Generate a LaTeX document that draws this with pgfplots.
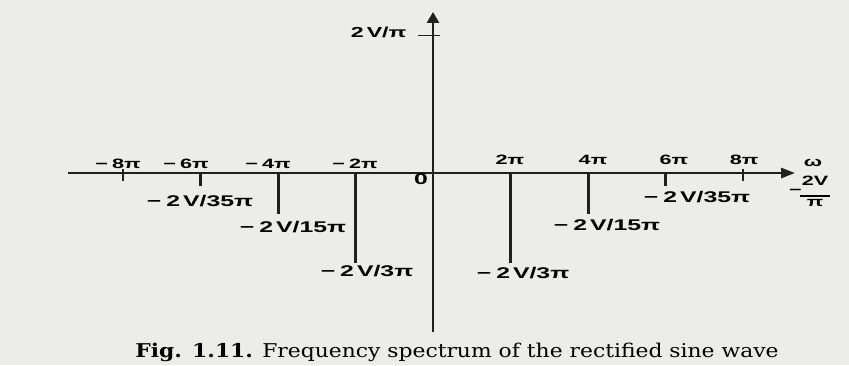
\documentclass[border=0pt]{standalone}
\usepackage{pgfplots}
\pgfplotsset{compat=1.18}
\usetikzlibrary{arrows.meta}
\usepackage{fontspec}
\setmainfont{Liberation Serif}
\newfontfamily\lbl[FakeStretch=1.6]{Liberation Sans}
\newfontfamily\capfont[FakeStretch=1.15]{DejaVu Serif}
\definecolor{paper}{RGB}{236,236,234}
\definecolor{ink}{RGB}{32,32,32}
\newcommand{\bl}{\fontsize{15.5}{18}\selectfont\lbl\bfseries}
\newcommand{\tl}{\fontsize{13.5}{16}\selectfont\lbl\bfseries}
\begin{document}
\begin{tikzpicture}
\begin{axis}[
  scale only axis, width=849pt, height=365pt,
  xmin=-11.174, xmax=10.735, ymin=-1.396, ymax=1.258,
  axis lines=none, clip=false,
  every node/.style={inner sep=0pt, outer sep=0pt, text=ink},
]
\fill[paper] (rel axis cs:0,0) rectangle (rel axis cs:1,1);
% axes
\draw[ink, line width=2.8pt, -{Triangle[length=14pt,width=10pt]}] (axis cs:-9.419,0) -- (axis cs:9.342,0);
\draw[ink, line width=2.8pt, -{Triangle[length=11pt,width=12pt]}] (axis cs:0,-1.156) -- (axis cs:0,1.171);
\draw[ink, line width=1.8pt] (axis cs:-0.387,1) -- (axis cs:0.18,1);
% spectrum (DC line coincides with the vertical axis)
\addplot[ycomb, ink, line width=2.8pt, mark=none] coordinates {(0,1)};
\addplot[ycomb, ink, line width=3.0pt, mark=none] coordinates {
(-6,-0.095) (-4,-0.30) (-2,-0.655) (2,-0.655) (4,-0.30) (6,-0.095)};
\addplot[ink, line width=2.8pt, mark=none] coordinates {(-8,0.03) (-8,-0.058)};
\addplot[ink, line width=2.8pt, mark=none] coordinates {(8,0.03) (8,-0.058)};
% frequency labels
\node[anchor=base] at (axis cs:-8.129,0.0364) {\tl −\hspace{4pt}8π};
\node[anchor=base] at (axis cs:-6.374,0.0364) {\tl −\hspace{4pt}6π};
\node[anchor=base] at (axis cs:-4.258,0.0364) {\tl −\hspace{4pt}4π};
\node[anchor=base] at (axis cs:-2.013,0.0364) {\tl −\hspace{4pt}2π};
\node[anchor=base] at (axis cs:1.987,0.0655) {\tl 2π};
\node[anchor=base] at (axis cs:4.129,0.0655) {\tl 4π};
\node[anchor=base] at (axis cs:6.219,0.0655) {\tl 6π};
\node[anchor=base] at (axis cs:8.026,0.0655) {\tl 8π};
% amplitude labels
\node[anchor=base] at (axis cs:-6.013,-0.24) {\bl −\hspace{5pt}2\hspace{3pt}V/35π};
\node[anchor=base] at (axis cs:-3.613,-0.436) {\bl −\hspace{5pt}2\hspace{3pt}V/15π};
\node[anchor=base] at (axis cs:-1.703,-0.756) {\bl −\hspace{5pt}2\hspace{3pt}V/3π};
\node[anchor=base] at (axis cs:2.323,-0.764) {\bl −\hspace{5pt}2\hspace{3pt}V/3π};
\node[anchor=base] at (axis cs:4.490,-0.415) {\bl −\hspace{5pt}2\hspace{3pt}V/15π};
\node[anchor=base] at (axis cs:6.813,-0.211) {\bl −\hspace{5pt}2\hspace{3pt}V/35π};
\node[anchor=base east] at (axis cs:-0.594,0.982) {\fontsize{14.5}{17}\selectfont\lbl\bfseries 2\hspace{3pt}V/π};
\node[anchor=base] at (axis cs:-0.31,-0.087) {\bl 0};
\node[anchor=base] at (axis cs:9.806,0.045) {\tl ω};
\node[anchor=west] at (axis cs:9.10,-0.140) {\tl −};
\node[anchor=center] at (axis cs:9.86,-0.145) {\tl\begin{tabular}{@{}c@{}}2V\\[-5pt]\rule{30pt}{1.8pt}\\[-6pt]π\end{tabular}};
% caption
\node[anchor=base] at (axis cs:0.619,-1.338) {\fontsize{19}{22}\selectfont\capfont{\bfseries Fig. 1.11.} Frequency spectrum of the rectified sine wave};
\end{axis}
\end{tikzpicture}
\end{document}
